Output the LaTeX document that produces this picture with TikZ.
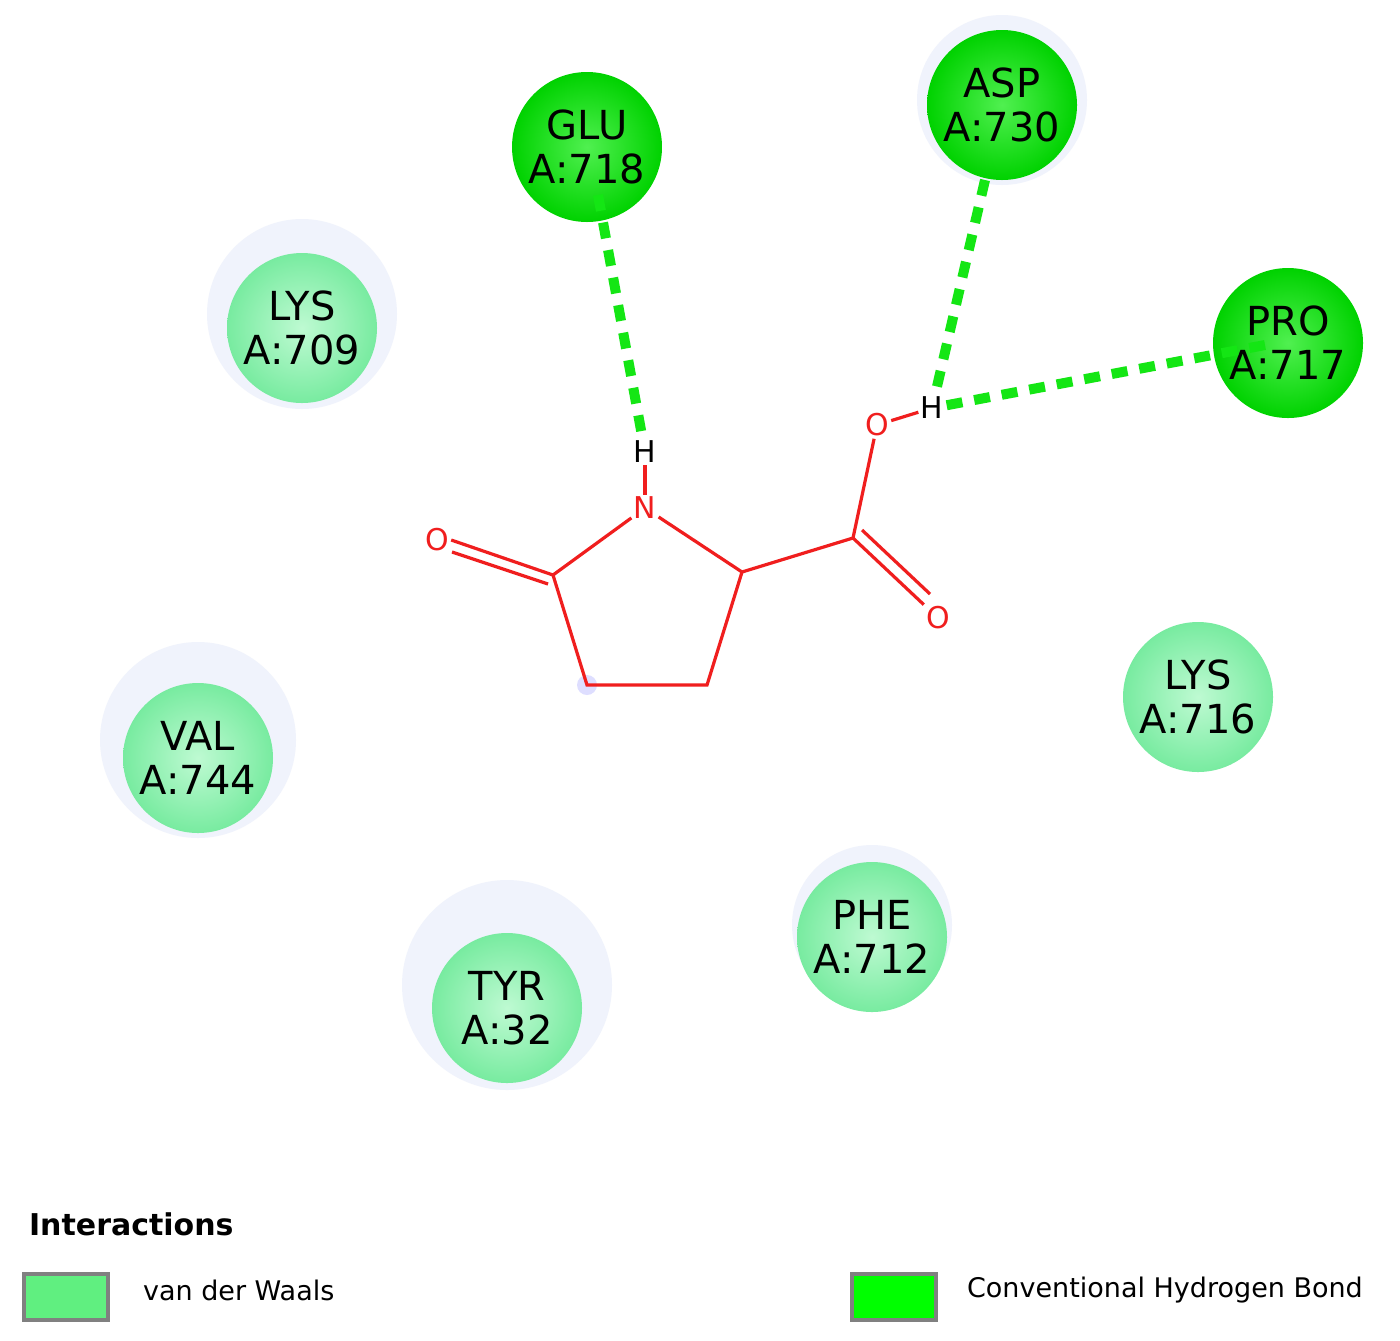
\documentclass[tikz,border=0pt]{standalone}
\usepackage{fontspec}
\setmainfont{DejaVu Sans}
\begin{document}
\begin{tikzpicture}[x=0.5pt,y=-0.5pt]
\definecolor{vdw}{RGB}{120,235,160}
\definecolor{vdwin}{RGB}{190,250,210}
\definecolor{hb}{RGB}{0,210,0}
\definecolor{hbin}{RGB}{80,240,80}
\definecolor{halo}{RGB}{240,243,252}
\definecolor{mol}{RGB}{240,30,30}
\definecolor{hbl}{RGB}{20,230,20}
\tikzset{
 res/.style={circle,minimum size=75pt,inner sep=0pt,align=center,font=\fontsize{20}{22}\selectfont,text=black},
 vres/.style={res,inner color=vdwin,outer color=vdw},
 hres/.style={res,inner color=hbin,outer color=hb},
 bond/.style={draw=mol,line width=1.6pt},
 hbond/.style={draw=hbl,line width=5pt,dash pattern=on 8pt off 6pt},
 atom/.style={inner sep=1pt,font=\fontsize{15}{16}\selectfont},
 lbox/.style={draw=gray,line width=2pt,minimum width=42pt,minimum height=23pt,inner sep=0pt},
 ltext/.style={anchor=west,font=\fontsize{13.5}{15}\selectfont}
}
\useasboundingbox (0,0) rectangle (1400,1340);
\fill[white] (0,0) rectangle (1400,1340);
% halos
\fill[halo] (302,314) circle (95);
\fill[halo] (198,740) circle (98);
\fill[halo] (507,985) circle (105);
\fill[halo] (872,925) circle (80);
\fill[halo] (1002,100) circle (85);
% residues
\node[hres] (glu) at (587,147) {GLU\\A:718};
\node[hres] (asp) at (1002,105) {ASP\\A:730};
\node[hres] (pro) at (1288,343) {PRO\\A:717};
\node[vres] (lys709) at (302,328) {LYS\\A:709};
\node[vres] (val) at (198,758) {VAL\\A:744};
\node[vres] (tyr) at (507,1008) {TYR\\A:32};
\node[vres] (phe) at (872,937) {PHE\\A:712};
\node[vres] (lys716) at (1198,697) {LYS\\A:716};
% molecule
\node[atom,text=mol] (n) at (645,508) {N};
\node[atom] (h1) at (645,452) {H};
\coordinate (c1) at (553,575);
\coordinate (c2) at (587,685);
\coordinate (c3) at (707,685);
\coordinate (c4) at (742,572);
\node[atom,text=mol] (o1) at (437,540) {O};
\coordinate (c5) at (853,538);
\node[atom,text=mol] (o2) at (938,618) {O};
\node[atom,text=mol] (o3) at (877,425) {O};
\node[atom] (h2) at (932,408) {H};
\coordinate (d1a) at (548,584);
\coordinate (d1b) at (452,552);
\coordinate (d2a) at (862,530);
\coordinate (d2b) at (930,594);
\fill[blue!25,opacity=0.5] (587,685) circle (10);
\draw[bond] (n) -- (c1) -- (c2) -- (c3) -- (c4) -- (n);
\draw[bond] (c1) -- (o1.east);
\draw[bond] (d1a) -- (d1b);
\draw[bond] (c4) -- (c5) -- (o3);
\draw[bond] (c5) -- (o2);
\draw[bond] (d2a) -- (d2b);
\draw[bond] (o3) -- (h2);
\draw[bond] (n) -- (h1);
% h-bonds
\draw[hbond] (598,195) -- (h1);
\draw[hbond] (985,180) -- (h2);
\draw[hbond] (1265,345) -- (h2);
% legend
\node[anchor=west,font=\bfseries\fontsize{15}{16}\selectfont] (leg) at (22,1224) {Interactions};
\node[lbox,fill=vdw!80!green,anchor=north west] (b1) at (22,1272) {};
\node[ltext] (t1) at (136,1290) {van der Waals};
\node[lbox,fill=green,anchor=north west] (b2) at (850,1272) {};
\node[ltext] (t2) at (960,1290) {Conventional Hydrogen Bond};
\end{tikzpicture}
\end{document}
